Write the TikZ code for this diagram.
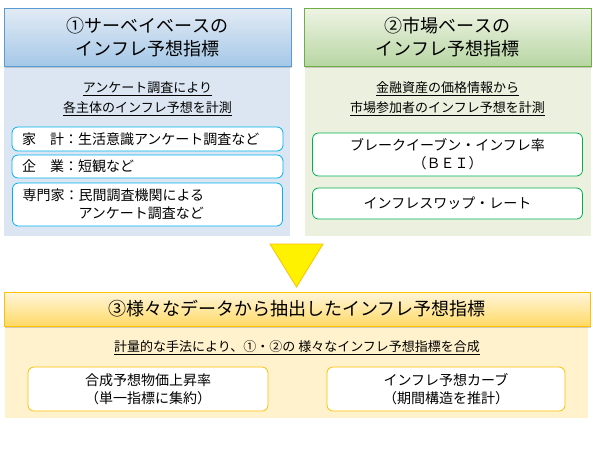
\documentclass[tikz,border=0pt]{standalone}
\usepackage{fontspec}
\setmainfont{Noto Sans CJK JP}
\usetikzlibrary{shapes.geometric, shadows, positioning}
\definecolor{bgblue}{HTML}{DCE6F2}
\definecolor{bggreen}{HTML}{EBF1DE}
\definecolor{bgyellow}{HTML}{FFF2CC}
\definecolor{lnblue}{HTML}{5B9BD5}
\definecolor{lngreen}{HTML}{70AD47}
\definecolor{lnyellow}{HTML}{FFC000}
\definecolor{boxblue}{HTML}{00B0F0}
\definecolor{boxgreen}{HTML}{00B050}
\tikzstyle{panel} = [rectangle, inner sep=0pt, minimum width=286pt]
\tikzstyle{header} = [rectangle, draw, line width=1pt, minimum width=287pt, minimum height=58pt, align=center, font=\fontsize{18}{23}\selectfont, drop shadow={shadow xshift=1pt, shadow yshift=-2pt, opacity=0.35}]
\tikzstyle{subtitle} = [align=center, font=\fontsize{13}{20}\selectfont]
\tikzstyle{item} = [rectangle, draw, fill=white, rounded corners=6pt, line width=0.8pt, font=\fontsize{14}{18}\selectfont]

\begin{document}
\begin{tikzpicture}[node distance = 2cm, auto]
        \useasboundingbox (0pt,0pt) rectangle (593pt,-451pt);
        % Fondos
        \node [panel, fill=bgblue, minimum height=228pt] (bg1) at (147pt,-122pt) {};
        \node [panel, fill=bggreen, minimum height=228pt] (bg2) at (447.5pt,-122pt) {};
        \node [panel, fill=bgyellow, minimum width=583pt, minimum height=126pt] (bg3) at (296.5pt,-355pt) {};

        % Encuestas
        \node [header, draw=lnblue, top color=bgblue!80, bottom color=lnblue!55] (h1) at (147.5pt,-37pt) {①サーベイベースの\\インフレ予想指標};
        \node [subtitle, below of=h1, node distance=62pt] (sub1) {\underline{アンケート調査により}\\\underline{各主体のインフレ予想を計測}};
        \node [item, draw=boxblue, text width=251pt, inner xsep=10pt, align=left, minimum height=24pt, below of=sub1, node distance=40pt] (kakei) {家　計：生活意識アンケート調査など};
        \node [item, draw=boxblue, text width=251pt, inner xsep=10pt, align=left, minimum height=23pt, below of=kakei, node distance=27.5pt] (kigyo) {企　業：短観など};
        \node [item, draw=boxblue, text width=250pt, inner xsep=10pt, align=left, minimum height=43pt, below of=kigyo, node distance=38pt] (senmon) {専門家：民間調査機関による\\　　　　アンケート調査など};

        % Mercado
        \node [header, draw=lngreen, top color=bggreen!80, bottom color=lngreen!50, right of=h1, node distance=300pt] (h2) {②市場ベースの\\インフレ予想指標};
        \node [subtitle, below of=h2, node distance=62pt] (sub2) {\underline{金融資産の価格情報から}\\\underline{市場参加者のインフレ予想を計測}};
        \node [item, draw=boxgreen, align=center, minimum width=270pt, minimum height=43pt, below of=sub2, node distance=55.5pt] (bei) {ブレークイーブン・インフレ率\\（ＢＥＩ）};
        \node [item, draw=boxgreen, minimum width=270pt, minimum height=31pt, below of=bei, node distance=49pt] (swap) {インフレスワップ・レート};

        % Flecha
        \fill [yellow, draw=lnyellow, line width=0.8pt] (270pt,-244pt) -- (323pt,-244pt) -- (296.5pt,-287pt) -- cycle;

        % Compuesto
        \node [header, draw=lnyellow, top color=bgyellow!70, bottom color=lnyellow!60, minimum width=586pt, minimum height=34pt] (h3) at (297pt,-309pt) {③様々なデータから抽出したインフレ予想指標};
        \node [subtitle, below of=h3, node distance=39pt] (sub3) {\underline{計量的な手法により、①・②の 様々なインフレ予想指標を合成}};
        \node [item, draw=lnyellow, align=center, minimum width=240pt, minimum height=44pt, below of=sub3, xshift=-149pt, node distance=41pt] (gosei) {合成予想物価上昇率\\（単一指標に集約）};
        \node [item, draw=lnyellow, align=center, minimum width=238pt, minimum height=44pt, right of=gosei, node distance=298pt] (curve) {インフレ予想カーブ\\（期間構造を推計）};
    \end{tikzpicture}
\end{document}
